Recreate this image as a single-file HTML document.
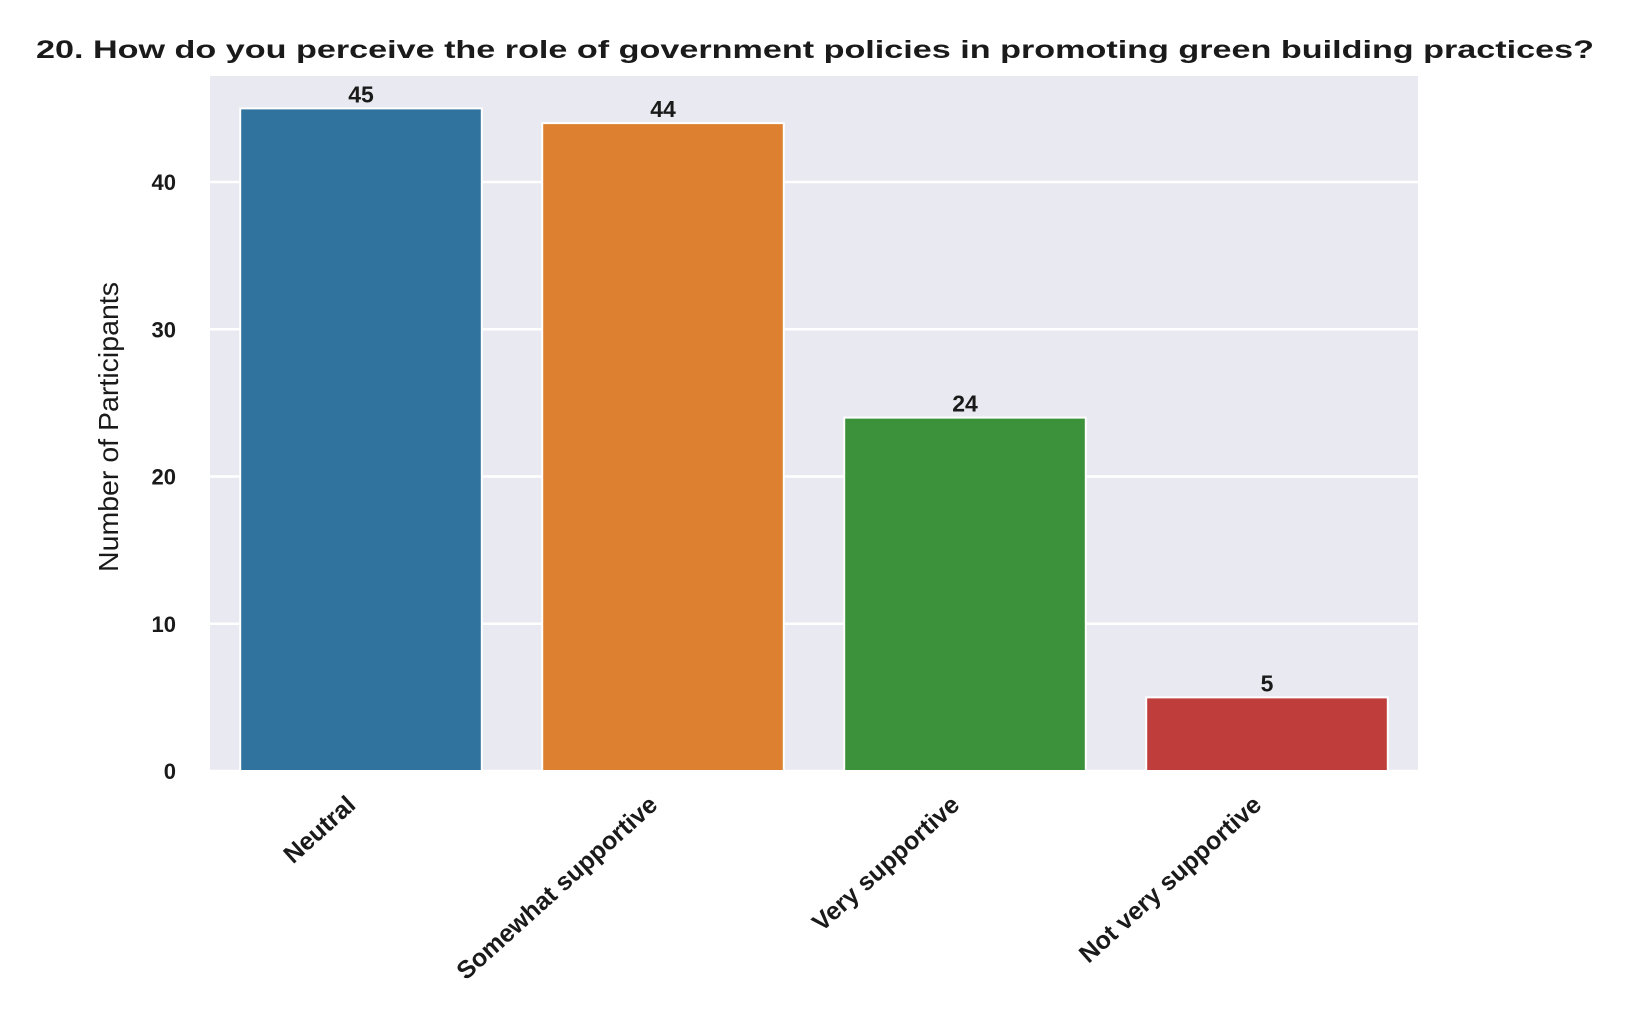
<!DOCTYPE html>
<html><head><meta charset="utf-8"><style>
html,body{margin:0;padding:0;background:#fff;}
svg text{font-family:"Liberation Sans",Arial,sans-serif;}
</style></head><body>
<svg id="chart" width="1625" height="1007" xmlns="http://www.w3.org/2000/svg">
<rect width="1625" height="1007" fill="#fff"/>
<text x="36" y="58" font-size="25" font-weight="bold" fill="#1a1a1a" textLength="1558" lengthAdjust="spacingAndGlyphs">20.  How do you perceive the role of government policies in promoting green building practices?</text>
<rect x="210" y="76" width="1208" height="695" fill="#e9e9f1"/>
<g id="grid"></g>
<g id="bars"></g>
<g id="labels"></g>
<text transform="translate(118,427) rotate(-90)" text-anchor="middle" font-size="28" fill="#1a1a1a" textLength="290" lengthAdjust="spacingAndGlyphs">Number of Participants</text>
</svg>
<script>
const categories = ["Neutral","Somewhat supportive","Very supportive","Not very supportive"];
const values = [45,44,24,5];
const yTicks = [0,10,20,30,40];
const colors = ["#31739f","#dd802f","#3b923a","#bf3d3b"];
const NS="http://www.w3.org/2000/svg";
const L=210,R=1418,B=771,T=76,yMax=47.2;
const y=v=>B-(v/yMax)*(B-T);
const bw=(R-L)/categories.length;
const x=i=>L+bw*i+bw/2;
function mk(tag,attrs,parent,txt){const e=document.createElementNS(NS,tag);for(const k in attrs)e.setAttribute(k,attrs[k]);if(txt!==undefined)e.textContent=txt;parent.appendChild(e);return e;}
const grid=document.getElementById('grid'),bars=document.getElementById('bars'),labels=document.getElementById('labels');
yTicks.forEach(t=>{
  const ln=mk('line',{x1:L,x2:R,y1:y(t),y2:y(t),stroke:'#fff','stroke-width':2.5},grid);
  
  
  const tx=mk('text',{x:176,y:y(t)+8,'text-anchor':'end','font-size':22,'font-weight':'bold',fill:'#1a1a1a'},labels,String(t));
  
  
});
categories.forEach((c,i)=>{
  const w=bw*0.8;
  const r=mk('rect',{x:x(i)-w/2,y:y(values[i]),width:w,height:B-y(values[i]),fill:colors[i],stroke:'#fff','stroke-width':2},bars);
  
  
  const v=mk('text',{x:x(i),y:y(values[i])-6,'text-anchor':'middle','font-size':23,'font-weight':'bold',fill:'#1a1a1a'},labels,String(values[i]));
  
  
  const cx=x(i)-4,cy=B+36;
  const xl=mk('text',{x:0,y:0,'text-anchor':'end','font-size':25,'font-weight':'bold',fill:'#1a1a1a',transform:`translate(${cx},${cy}) rotate(-42)`},labels,c);
  
  
});
</script>
</body></html>
